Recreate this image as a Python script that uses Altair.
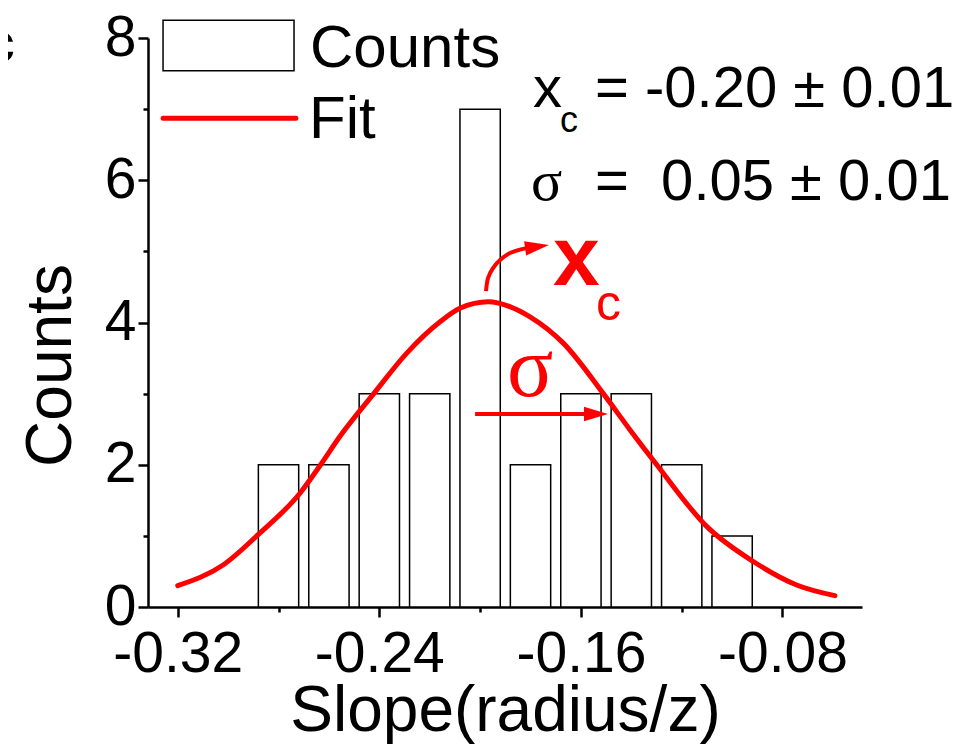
import altair as alt
import pandas as pd

# ---------------- data ----------------
bin_centers = [-0.28, -0.26, -0.24, -0.22, -0.20, -0.18, -0.16, -0.14, -0.12, -0.10]
bin_counts = [2, 2, 3, 3, 7, 2, 3, 3, 2, 1]

fit_x = [-0.320, -0.302, -0.288, -0.2715, -0.2635, -0.2556, -0.2422, -0.2291, -0.2159,
         -0.208, -0.1967, -0.1880, -0.1802, -0.167, -0.1511, -0.1405, -0.1299, -0.110,
         -0.0916, -0.0744, -0.0592]
fit_y = [0.30, 0.59, 1.02, 1.60, 1.99, 2.40, 3.00, 3.57, 4.01,
         4.20, 4.29, 4.22, 4.08, 3.71, 3.00, 2.49, 2.00, 1.13,
         0.64, 0.31, 0.16]

x_ticks = [-0.32, -0.28, -0.24, -0.20, -0.16, -0.12, -0.08]
y_ticks = [0, 1, 2, 3, 4, 5, 6, 7, 8]

x_title = "Slope(radius/z)"
y_title = "Counts"

SANS = "Liberation Sans, Arial, Helvetica, sans-serif"
SERIF = "Liberation Serif, Times New Roman, serif"
RED = "#ff0000"
NB = "\u00a0"

xs = alt.Scale(domain=[-0.3318, -0.04845], nice=False, zero=False)
ys = alt.Scale(domain=[0, 8], nice=False, zero=False)

MINUS = "\u2212"

x_axis = alt.Axis(
    values=x_ticks, format=".2f",
    labelExpr="abs(round(datum.value*100)) % 8 == 0 ? replace(datum.label, '" + MINUS + "', '-') : ''",
    tickSize={"condition": {"test": "abs(round(datum.value*100)) % 8 == 0", "value": 10}, "value": 5},
    tickWidth=2.5, tickColor="black", domainColor="black", domainWidth=2.5,
    labelFont=SANS, labelFontSize=57, labelColor="black", labelPadding=9,
    labelFlush=False, labelOverlap=False, grid=False,
    title=x_title, titleFont=SANS, titleFontSize=64, titleFontWeight="normal",
    titleColor="black", titleX=357, titleY=123, titleBaseline="alphabetic", titleAlign="center",
)
y_axis = alt.Axis(
    values=y_ticks,
    labelExpr="datum.value % 2 == 0 ? datum.label : ''",
    tickSize={"condition": {"test": "datum.value % 2 == 0", "value": 10}, "value": 5},
    tickWidth=2.5, tickColor="black", domainColor="black", domainWidth=2.5,
    labelFont=SANS, labelFontSize=57, labelColor="black", labelPadding=2,
    labelFlush=False, labelOverlap=False, grid=False,
    title=y_title, titleFont=SANS, titleFontSize=64, titleFontWeight="normal",
    titleColor="black", titleX=-78, titleY=327, titleBaseline="alphabetic",
    titleAlign="center", titleAngle=270,
)


def X(field):
    return alt.X(field, scale=xs, axis=x_axis)


def Y(field):
    return alt.Y(field, scale=ys, axis=y_axis)


bars = alt.Chart(pd.DataFrame({"center": bin_centers, "count": bin_counts})).transform_calculate(
    left="datum.center - 0.008", right="datum.center + 0.008"
).mark_bar(fill="white", stroke="black", strokeWidth=1.5).encode(
    x=X("left:Q"),
    x2="right:Q",
    y=Y("count:Q"),
    y2=alt.datum(0),
)

fit = alt.Chart(pd.DataFrame({"x": fit_x, "y": fit_y})).mark_line(
    color=RED, strokeWidth=5, interpolate="monotone", strokeCap="round"
).encode(x=X("x:Q"), y=Y("y:Q"))

# ---------------- legend ----------------
legend_box = alt.Chart(pd.DataFrame({"x1": [-0.32583], "x2": [-0.27385], "y1": [7.54], "y2": [8.25]})).mark_rect(
    fill="white", stroke="black", strokeWidth=1.5
).encode(x=X("x1:Q"), x2="x2:Q", y=Y("y1:Q"), y2="y2:Q")

legend_line = alt.Chart(pd.DataFrame({"x": [-0.3258, -0.2731], "y": [6.87, 6.87]})).mark_line(
    color=RED, strokeWidth=5, strokeCap="round"
).encode(x=X("x:Q"), y=Y("y:Q"))


def text_layer(xv, yv, texts, font, size, color="black", weight="normal", align="left"):
    df = pd.DataFrame({"x": xv, "y": yv, "t": texts})
    return alt.Chart(df).mark_text(
        align=align, baseline="alphabetic", font=font, fontSize=size,
        fontWeight=weight, color=color
    ).encode(x=X("x:Q"), y=Y("y:Q"), text="t:N")


legend_text = text_layer([-0.2675, -0.2679], [7.588, 6.591], ["Counts", "Fit"], SANS, 60)

# ---------------- annotations ----------------
ann_main = text_layer([-0.17901, -0.15440, -0.15440], [7.027, 7.027, 5.72],
                      ["x", "= -0.20 \u00b1 0.01", "=" + NB + NB + "0.05 \u00b1 0.01"], SANS, 58)
ann_sub = text_layer([-0.16830], [6.676], ["c"], SANS, 36)
ann_sigma = text_layer([-0.17980], [5.72], ["\u03c3"], SERIF, 58)

red_x = text_layer([-0.17107], [4.527], ["x"], SANS, 84, color=RED, weight="bold")
red_c = text_layer([-0.15400], [4.035], ["c"], SANS, 50, color=RED)
red_sigma = text_layer([-0.18933], [2.968], ["\u03c3"], SERIF, 86, color=RED)

panel = text_layer([-0.38460], [7.659], ["c"], SANS, 58, weight="bold", align="right")

arrow_h = alt.Chart(pd.DataFrame({"x": [-0.2020, -0.15639], "y": [2.714, 2.714]})).mark_line(
    color=RED, strokeWidth=4
).encode(x=X("x:Q"), y=Y("y:Q"))

arc_df = pd.DataFrame({
    "x": [-0.19766, -0.19687, -0.19488, -0.19210, -0.18813, -0.18337, -0.17940],
    "y": [4.442, 4.625, 4.765, 4.878, 4.976, 5.032, 5.060],
    "o": [0, 1, 2, 3, 4, 5, 6],
})
arrow_arc = alt.Chart(arc_df).mark_line(color=RED, strokeWidth=4, interpolate="cardinal").encode(
    x=X("x:Q"), y=Y("y:Q"), order="o:Q"
)

HEAD = "M-1,-0.6L1,0L-1,0.6Z"
heads = alt.Chart(pd.DataFrame({"x": [-0.15401, -0.17742], "y": [2.714, 5.065], "a": [0, 352]})).mark_point(
    shape=HEAD, size=576, filled=True, color=RED, opacity=1, strokeWidth=0
).encode(x=X("x:Q"), y=Y("y:Q"), angle=alt.Angle("a:Q", scale=None))

chart = alt.layer(
    bars, fit, legend_box, legend_line, legend_text,
    ann_main, ann_sub, ann_sigma, red_x, red_c, red_sigma, panel,
    arrow_h, arrow_arc, heads,
).properties(
    width=714, height=569,
    autosize=alt.AutoSizeParams(type="none"),
    padding={"left": 140, "top": 30, "right": 95, "bottom": 140},
    background="white",
).configure_view(stroke=None)

chart.save("out.html", embed_options={"renderer": "svg", "actions": False})
